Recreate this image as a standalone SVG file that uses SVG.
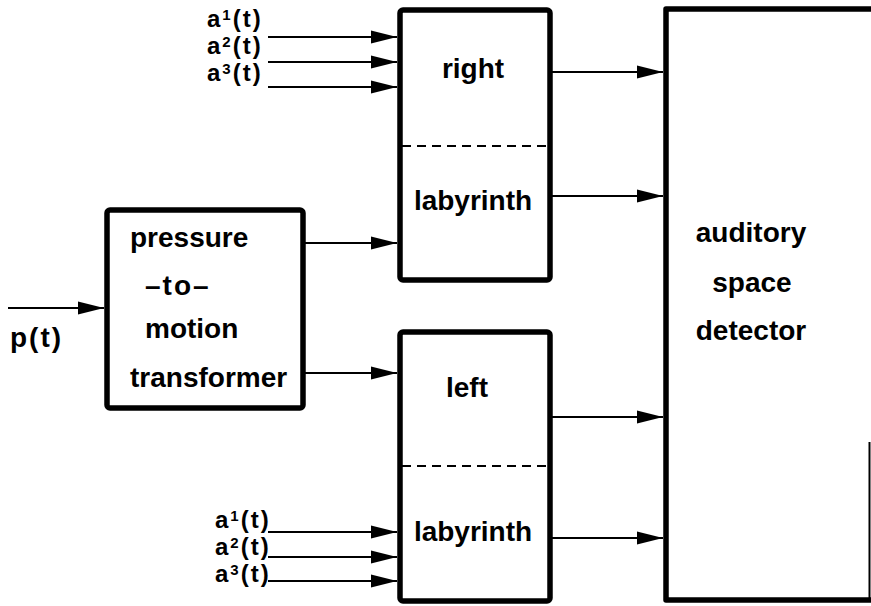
<svg xmlns="http://www.w3.org/2000/svg" width="871" height="606" viewBox="0 0 871 606">
<style>
.box{fill:#fff;stroke:#000;stroke-width:5.5;stroke-linejoin:round}
.dash{stroke:#000;stroke-width:2;stroke-dasharray:9 6;fill:none}
.conn{stroke:#000;stroke-width:2;fill:none}
text{font-family:"Liberation Sans",Arial,sans-serif;font-weight:bold;font-size:28px;fill:#000}
.c{text-anchor:middle}
.al{font-size:24px;letter-spacing:2px}
.sup{font-size:15px}
</style>
<defs>
<marker id="ah" markerUnits="userSpaceOnUse" markerWidth="27" markerHeight="14" refX="26" refY="7" orient="auto">
<path d="M0,0.5 L26,7 L0,13.5 z" fill="#000"/>
</marker>
</defs>
<rect width="871" height="606" fill="#fff"/>

<g id="transformer">
<rect class="box" x="107" y="210" width="196" height="198" rx="3"/>
<text x="130" y="247">pressure</text>
<text x="145" y="295" letter-spacing="2">–to–</text>
<text x="145" y="338">motion</text>
<text x="130" y="387">transformer</text>
</g>

<g id="right-labyrinth">
<rect class="box" x="400" y="10" width="150" height="270" rx="3"/>
<line class="dash" x1="402" y1="146" x2="548" y2="146"/>
<text class="c" x="473" y="78">right</text>
<text class="c" x="473" y="210">labyrinth</text>
</g>

<g id="left-labyrinth">
<rect class="box" x="400" y="332" width="150" height="269" rx="3"/>
<line class="dash" x1="402" y1="466" x2="548" y2="466"/>
<text class="c" x="467" y="397">left</text>
<text class="c" x="473" y="541">labyrinth</text>
</g>

<g id="detector">
<path d="M871,9 L666,9 L666,600 L871,600" fill="#fff" stroke="#000" stroke-width="5.5" stroke-linejoin="round"/>
<line x1="869.5" y1="442" x2="869.5" y2="600" stroke="#000" stroke-width="2"/>
<text class="c" x="751" y="242">auditory</text>
<text class="c" x="752" y="292">space</text>
<text class="c" x="751" y="340">detector</text>
</g>

<g id="labels">
<text x="10" y="347" letter-spacing="2">p(t)</text>
<text class="al" x="207" y="27">a<tspan class="sup" dy="-7">1</tspan><tspan dy="7">(t)</tspan></text>
<text class="al" x="207" y="54">a<tspan class="sup" dy="-7">2</tspan><tspan dy="7">(t)</tspan></text>
<text class="al" x="207" y="81">a<tspan class="sup" dy="-7">3</tspan><tspan dy="7">(t)</tspan></text>
<text class="al" x="215" y="528">a<tspan class="sup" dy="-7">1</tspan><tspan dy="7">(t)</tspan></text>
<text class="al" x="215" y="555">a<tspan class="sup" dy="-7">2</tspan><tspan dy="7">(t)</tspan></text>
<text class="al" x="215" y="582">a<tspan class="sup" dy="-7">3</tspan><tspan dy="7">(t)</tspan></text>
</g>

<g id="connectors">
<line class="conn" x1="8" y1="308" x2="104" y2="308" marker-end="url(#ah)"/>
<line class="conn" x1="303" y1="243" x2="397" y2="243" marker-end="url(#ah)"/>
<line class="conn" x1="303" y1="373" x2="397" y2="373" marker-end="url(#ah)"/>
<line class="conn" x1="268" y1="37" x2="397" y2="37" marker-end="url(#ah)"/>
<line class="conn" x1="268" y1="62" x2="397" y2="62" marker-end="url(#ah)"/>
<line class="conn" x1="268" y1="87" x2="397" y2="87" marker-end="url(#ah)"/>
<line class="conn" x1="268" y1="532" x2="397" y2="532" marker-end="url(#ah)"/>
<line class="conn" x1="268" y1="557" x2="397" y2="557" marker-end="url(#ah)"/>
<line class="conn" x1="268" y1="581" x2="397" y2="581" marker-end="url(#ah)"/>
<line class="conn" x1="550" y1="72" x2="663" y2="72" marker-end="url(#ah)"/>
<line class="conn" x1="550" y1="196" x2="663" y2="196" marker-end="url(#ah)"/>
<line class="conn" x1="550" y1="417" x2="663" y2="417" marker-end="url(#ah)"/>
<line class="conn" x1="550" y1="538" x2="663" y2="538" marker-end="url(#ah)"/>
</g>
</svg>
